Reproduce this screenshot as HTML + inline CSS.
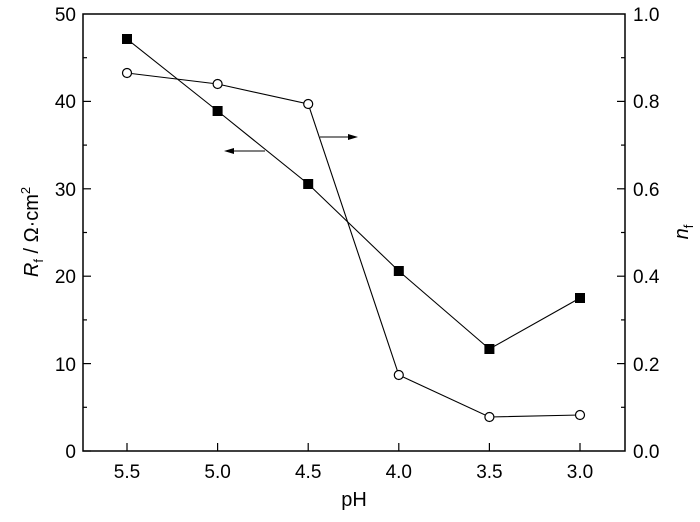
<!DOCTYPE html>
<html><head><style>body{margin:0;background:#fff}</style></head><body>
<svg width="700" height="517" xmlns="http://www.w3.org/2000/svg" font-family="Liberation Sans, sans-serif" font-size="19">
<rect x="83" y="14" width="542" height="437" fill="none" stroke="#000" stroke-width="1.5"/>
<g stroke="#000" stroke-width="1.2">
<line x1="83" y1="451" x2="91" y2="451"/><line x1="83" y1="363.6" x2="91" y2="363.6"/><line x1="83" y1="276.2" x2="91" y2="276.2"/><line x1="83" y1="188.8" x2="91" y2="188.8"/><line x1="83" y1="101.4" x2="91" y2="101.4"/>
<line x1="83" y1="407.3" x2="87" y2="407.3"/><line x1="83" y1="319.9" x2="87" y2="319.9"/><line x1="83" y1="232.5" x2="87" y2="232.5"/><line x1="83" y1="145.1" x2="87" y2="145.1"/><line x1="83" y1="57.7" x2="87" y2="57.7"/>
<line x1="625" y1="363.6" x2="617" y2="363.6"/><line x1="625" y1="276.2" x2="617" y2="276.2"/><line x1="625" y1="188.8" x2="617" y2="188.8"/><line x1="625" y1="101.4" x2="617" y2="101.4"/>
<line x1="625" y1="407.3" x2="621" y2="407.3"/><line x1="625" y1="319.9" x2="621" y2="319.9"/><line x1="625" y1="232.5" x2="621" y2="232.5"/><line x1="625" y1="145.1" x2="621" y2="145.1"/><line x1="625" y1="57.7" x2="621" y2="57.7"/>
<line x1="127" y1="451" x2="127" y2="443"/><line x1="217.6" y1="451" x2="217.6" y2="443"/><line x1="308.2" y1="451" x2="308.2" y2="443"/><line x1="398.8" y1="451" x2="398.8" y2="443"/><line x1="489.4" y1="451" x2="489.4" y2="443"/><line x1="580" y1="451" x2="580" y2="443"/>
</g>
<g text-anchor="end">
<text x="76" y="458">0</text><text x="76" y="371">10</text><text x="76" y="283">20</text><text x="76" y="196">30</text><text x="76" y="108">40</text><text x="76" y="21">50</text>
</g>
<g>
<text x="633" y="458">0.0</text><text x="633" y="371">0.2</text><text x="633" y="283">0.4</text><text x="633" y="196">0.6</text><text x="633" y="108">0.8</text><text x="633" y="21">1.0</text>
</g>
<g text-anchor="middle">
<text x="127" y="478">5.5</text><text x="217.6" y="478">5.0</text><text x="308.2" y="478">4.5</text><text x="398.8" y="478">4.0</text><text x="489.4" y="478">3.5</text><text x="580" y="478">3.0</text>
<text x="354" y="506" font-size="20">pH</text>
</g>
<text transform="translate(38,232) rotate(-90)" text-anchor="middle" font-size="20"><tspan font-style="italic">R</tspan><tspan font-size="13" dy="5">f</tspan><tspan dy="-5"> / Ω·cm</tspan><tspan font-size="13" dy="-8">2</tspan></text>
<text transform="translate(688,232) rotate(-90)" text-anchor="middle" font-size="20"><tspan font-style="italic">n</tspan><tspan font-size="13" dy="5">f</tspan></text>
<polyline fill="none" stroke="#000" stroke-width="1.1" points="127,39 217.6,111 308.2,184 398.8,271 489.4,349 580,298"/>
<polyline fill="none" stroke="#000" stroke-width="1.1" points="127,73 217.6,84 308.2,104 398.8,375 489.4,417 580,415"/>
<g fill="#000">
<rect x="122" y="34" width="10" height="10"/><rect x="212.6" y="106" width="10" height="10"/><rect x="303.2" y="179" width="10" height="10"/><rect x="393.8" y="266" width="10" height="10"/><rect x="484.4" y="344" width="10" height="10"/><rect x="575" y="293" width="10" height="10"/>
</g>
<g fill="#fff" stroke="#000" stroke-width="1.2">
<circle cx="127" cy="73" r="4.5"/><circle cx="217.6" cy="84" r="4.5"/><circle cx="308.2" cy="104" r="4.5"/><circle cx="398.8" cy="375" r="4.5"/><circle cx="489.4" cy="417" r="4.5"/><circle cx="580" cy="415" r="4.5"/>
</g>
<line x1="265" y1="151" x2="232" y2="151" stroke="#000" stroke-width="1.1"/>
<polygon points="224,151 234,148 234,154" fill="#000"/>
<line x1="320" y1="137" x2="350" y2="137" stroke="#000" stroke-width="1.1"/>
<polygon points="358,137 348,134 348,140" fill="#000"/>
</svg>
</body></html>
